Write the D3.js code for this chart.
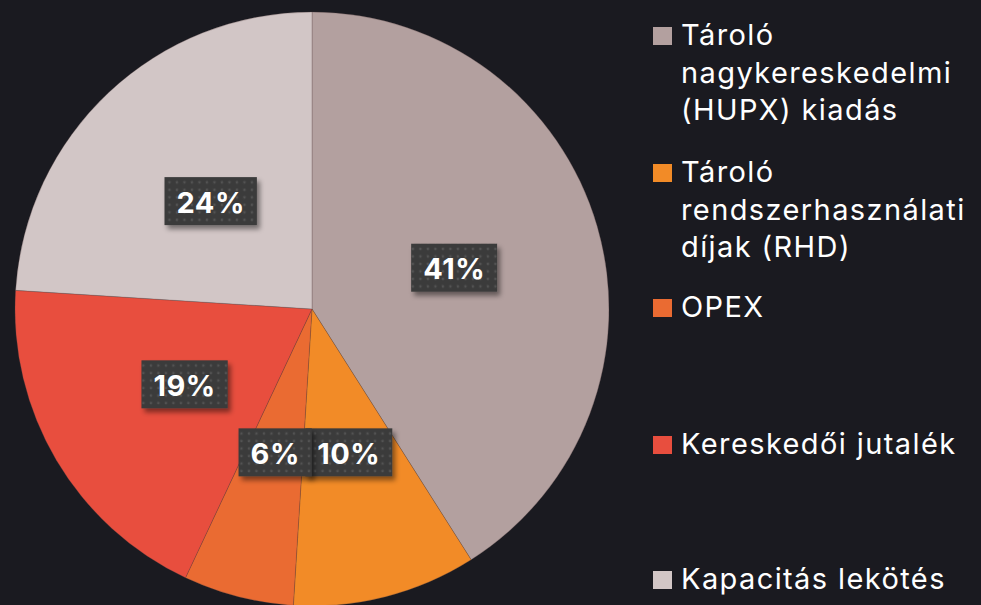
<!DOCTYPE html>
<html><head><meta charset="utf-8">
<script src="https://cdn.jsdelivr.net/npm/d3@7"></script>
<style>
html,body{margin:0;padding:0;background:#1a1a20;}
svg{display:block;}
</style></head>
<body>
<svg id="chart" width="981" height="605"></svg>
<script>
const categories = ["Tároló nagykereskedelmi (HUPX) kiadás", "Tároló rendszerhasználati díjak (RHD)", "OPEX", "Kereskedői jutalék", "Kapacitás lekötés"];
const values = [41, 10, 6, 19, 24];
const labels = ["41%", "10%", "6%", "19%", "24%"];
const colors = ["#b3a09f", "#f28b27", "#ea6b32", "#e84e3e", "#d2c6c6"];

const svg = d3.select("#chart");
const W = 981, H = 605;
svg.append("rect").attr("width", W).attr("height", H).attr("fill", "#1a1a20");

const defs = svg.append("defs");
const pat = defs.append("pattern").attr("id", "dots").attr("patternUnits", "userSpaceOnUse")
  .attr("width", 7.5).attr("height", 7.5);
pat.append("rect").attr("width", 7.5).attr("height", 7.5).attr("fill", "#3b3b3b");
pat.append("circle").attr("cx", 3.75).attr("cy", 3.75).attr("r", 1.3).attr("fill", "#525252");
const flt = defs.append("filter").attr("id", "shadow").attr("x", "-30%").attr("y", "-30%").attr("width", "160%").attr("height", "180%");
flt.append("feDropShadow").attr("dx", 3).attr("dy", 4).attr("stdDeviation", 2.5).attr("flood-color", "#000").attr("flood-opacity", 0.45);

const cx = 312, cy = 309, R = 297;
const pie = d3.pie().sort(null).value(d => d)(values);
const arc = d3.arc().innerRadius(0).outerRadius(R);

const g = svg.append("g").attr("transform", `translate(${cx},${cy})`);
g.selectAll("path.slice").data(pie).enter().append("path")
  .attr("class", "slice")
  .attr("d", arc)
  .attr("fill", (d, i) => colors[i])
  .attr("stroke", "rgba(90,70,70,0.35)")
  .attr("stroke-width", 0.8);

const lab = g.selectAll("g.lab").data(pie).enter().append("g").attr("class", "lab")
  .attr("transform", d => {
    const a = (d.startAngle + d.endAngle) / 2;
    return `translate(${Math.sin(a) * 148},${-Math.cos(a) * 148})`;
  });
lab.each(function(d, i) {
  const gg = d3.select(this);
  const rect = gg.append("rect").attr("fill", "url(#dots)").attr("filter", "url(#shadow)");
  const t = gg.append("text").text(labels[i])
    .attr("text-anchor", "middle").attr("dominant-baseline", "central")
    .attr("y", 1)
    .attr("fill", "#ffffff").attr("font-family", "Inter, 'Noto Sans', sans-serif")
    .attr("font-weight", 700).attr("font-size", 29).attr("letter-spacing", 0.5);
  const w = t.node().getComputedTextLength() + 24;
  rect.attr("x", -w / 2).attr("y", -24).attr("width", w).attr("height", 48);
});

// legend
const legX = 653, baselines = [45, 182, 317, 454, 589], lineH = 37.5, maxW = 300;
const leg = svg.append("g");
categories.forEach((c, i) => {
  const gi = leg.append("g");
  gi.append("rect").attr("x", legX).attr("y", baselines[i] - 18).attr("width", 19).attr("height", 18).attr("fill", colors[i]);
  const t = gi.append("text").attr("x", 681).attr("y", baselines[i])
    .attr("fill", "#ffffff").attr("font-family", "Inter, 'Noto Sans', sans-serif")
    .attr("font-size", 29).attr("letter-spacing", 1.4);
  const words = c.split(" ");
  let line = [];
  let ts = t.append("tspan").attr("x", 681).attr("dy", 0);
  words.forEach(w => {
    line.push(w);
    ts.text(line.join(" "));
    if (ts.node().getComputedTextLength() > maxW && line.length > 1) {
      line.pop();
      ts.text(line.join(" "));
      line = [w];
      ts = t.append("tspan").attr("x", 681).attr("dy", lineH).text(w);
    }
  });
});
</script>
</body></html>
